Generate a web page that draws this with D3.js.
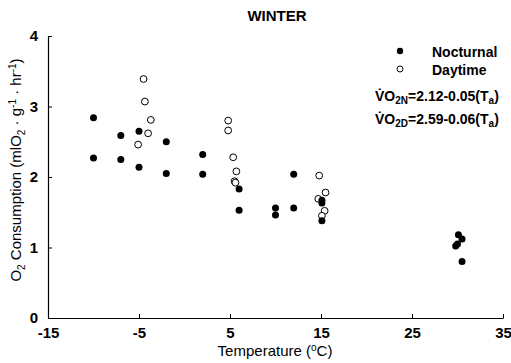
<!DOCTYPE html>
<html>
<head>
<meta charset="utf-8">
<script src="https://cdn.jsdelivr.net/npm/d3@7"></script>
<style>
  body { margin: 0; background: #fff; }
  svg text { font-family: "Liberation Sans", Arial, sans-serif; fill: #000; }
</style>
</head>
<body>
<div id="chart"></div>
<script>
// Nocturnal (filled) points
const nightTemp = [-10, -10, -7, -7, -5, -5, -2, -2, 2, 2, 6, 6, 10, 10, 12, 12, 15.1, 15.1, 15.1, 30.1, 30.5, 29.8, 30.0, 30.5];
const nightVO2 = [2.84, 2.27, 2.59, 2.25, 2.65, 2.14, 2.50, 2.05, 2.32, 2.04, 1.83, 1.53, 1.56, 1.46, 2.04, 1.56, 1.67, 1.63, 1.38, 1.18, 1.12, 1.02, 1.05, 0.80];

// Daytime (open) points
const dayTemp = [-4.5, -4.35, -3.7, -4.0, -5.1, 4.8, 4.8, 5.35, 5.7, 5.5, 5.6, 14.8, 15.5, 14.7, 15.4, 15.1];
const dayVO2 = [3.39, 3.07, 2.81, 2.62, 2.46, 2.80, 2.66, 2.28, 2.08, 1.94, 1.92, 2.02, 1.78, 1.69, 1.52, 1.45];

const xTicks = [-15, -5, 5, 15, 25, 35];
const yTicks = [0, 1, 2, 3, 4];

const W = 511, H = 363;
const margin = { top: 36, right: 8, bottom: 45, left: 48 };
const width = W - margin.left - margin.right;
const height = H - margin.top - margin.bottom;

const svg = d3.select('#chart').append('svg')
  .attr('width', W)
  .attr('height', H);

const g = svg.append('g')
  .attr('transform', `translate(${margin.left},${margin.top})`);

const x = d3.scaleLinear().domain([-15, 35]).range([0, width]);
const y = d3.scaleLinear().domain([0, 4]).range([height, 0]);

// X axis: ticks pointing up into the plot
const xAxis = g.append('g')
  .attr('transform', `translate(0,${height})`)
  .call(d3.axisBottom(x).tickValues(xTicks).tickFormat(d => String(d))
    .tickSize(-4).tickPadding(9).tickSizeOuter(0));
xAxis.selectAll('line').attr('stroke', '#000');
xAxis.select('.domain').attr('stroke', '#000').attr('stroke-width', 1.2);
xAxis.selectAll('text')
  .attr('font-size', 15).attr('font-weight', 'bold')
  .attr('dy', '0.71em');

// Y axis: ticks pointing right
const yAxis = g.append('g')
  .call(d3.axisLeft(y).tickValues(yTicks).tickFormat(d => String(d))
    .tickSize(-4).tickPadding(10).tickSizeOuter(0));
yAxis.selectAll('line').attr('stroke', '#000');
yAxis.select('.domain').attr('stroke', '#000').attr('stroke-width', 1.2);
yAxis.selectAll('text')
  .attr('font-size', 15).attr('font-weight', 'bold');

// Title
svg.append('text')
  .attr('x', 277).attr('y', 21)
  .attr('text-anchor', 'middle')
  .attr('font-size', 15).attr('font-weight', 'bold')
  .text('WINTER');

// X label
const xl = svg.append('text')
  .attr('x', 275).attr('y', 356)
  .attr('text-anchor', 'middle')
  .attr('font-size', 15);
xl.append('tspan').text('Temperature (');
xl.append('tspan').attr('font-size', 10).attr('dy', -5).text('o');
xl.append('tspan').attr('dy', 5).text('C)');

// Y label
const yl = svg.append('text')
  .attr('transform', 'translate(21,170) rotate(-90)')
  .attr('text-anchor', 'middle')
  .attr('font-size', 15);
yl.append('tspan').text('O');
yl.append('tspan').attr('font-size', 10).attr('dy', 4).text('2');
yl.append('tspan').attr('dy', -4).text(' Consumption (mlO');
yl.append('tspan').attr('font-size', 10).attr('dy', 4).text('2');
yl.append('tspan').attr('dy', -4).text(' \u00b7 g');
yl.append('tspan').attr('font-size', 10).attr('dy', -5).text('-1');
yl.append('tspan').attr('dy', 5).text(' \u00b7 hr');
yl.append('tspan').attr('font-size', 10).attr('dy', -5).text('-1');
yl.append('tspan').attr('dy', 5).text(')');

// Daytime points (open)
g.selectAll('.day')
  .data(dayTemp.map((t, i) => ({ t, v: dayVO2[i] })))
  .enter().append('circle')
  .attr('class', 'day')
  .attr('cx', d => x(d.t))
  .attr('cy', d => y(d.v))
  .attr('r', 3.4)
  .attr('fill', '#fff')
  .attr('stroke', '#000')
  .attr('stroke-width', 1);

// Nocturnal points (filled)
g.selectAll('.night')
  .data(nightTemp.map((t, i) => ({ t, v: nightVO2[i] })))
  .enter().append('circle')
  .attr('class', 'night')
  .attr('cx', d => x(d.t))
  .attr('cy', d => y(d.v))
  .attr('r', 3.5)
  .attr('fill', '#000');

// Legend
const leg = svg.append('g');
leg.append('circle').attr('cx', 400).attr('cy', 51).attr('r', 3.2).attr('fill', '#000');
leg.append('circle').attr('cx', 400).attr('cy', 69).attr('r', 3).attr('fill', '#fff').attr('stroke', '#000');
leg.append('text').attr('x', 432).attr('y', 57).attr('font-size', 14).attr('font-weight', 'bold').text('Nocturnal');
leg.append('text').attr('x', 432).attr('y', 75).attr('font-size', 14).attr('font-weight', 'bold').text('Daytime');

function equation(yPos, sub, txt) {
  const t = leg.append('text').attr('x', 375).attr('y', yPos)
    .attr('font-size', 14).attr('font-weight', 'bold');
  t.append('tspan').text('V\u0307O');
  t.append('tspan').attr('font-size', 10).attr('dy', 3).text(sub);
  t.append('tspan').attr('dy', -3).text(txt + '(T');
  t.append('tspan').attr('font-size', 10).attr('dy', 3).text('a');
  t.append('tspan').attr('dy', -3).text(')');
}
equation(101, '2N', '=2.12-0.05');
equation(124, '2D', '=2.59-0.06');
</script>
</body>
</html>
